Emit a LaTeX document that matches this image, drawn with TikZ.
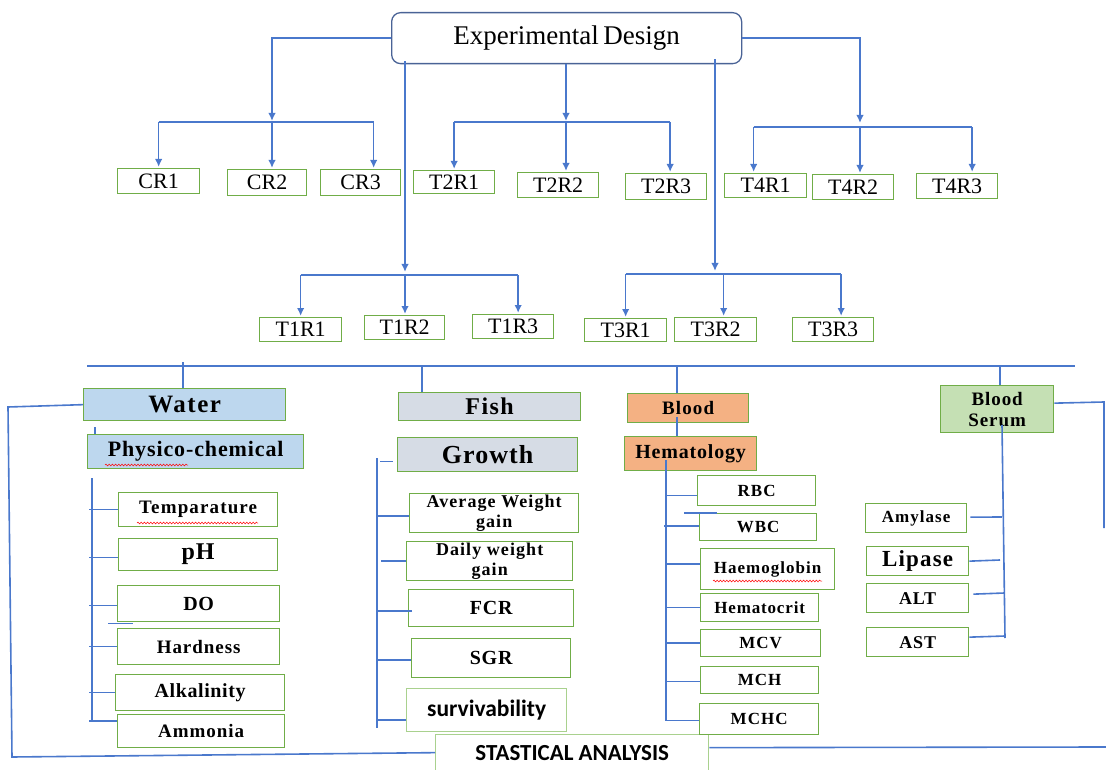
\documentclass[tikz,border=0pt]{standalone}
\usepackage{fontspec}
\setmainfont{Liberation Serif}
\newfontfamily\carl{Carlito}
\usetikzlibrary{arrows.meta,decorations.pathmorphing}
\definecolor{lblue}{HTML}{4A78CC}
\definecolor{ggreen}{HTML}{70AD47}
\definecolor{lgreen}{HTML}{A9D18E}
\definecolor{edblue}{HTML}{4A6396}
\definecolor{waterc}{HTML}{BDD7EE}
\definecolor{fishc}{HTML}{D6DCE5}
\definecolor{bloodc}{HTML}{F4B183}
\definecolor{serumc}{HTML}{C5E0B4}
\newcommand\fs[1]{\fontsize{#1}{#1}\selectfont}
\newcommand\bft[2]{\bfseries\fontsize{#1}{#1}\selectfont\addfontfeature{LetterSpace=#2}}
\tikzset{
  ln/.style={draw=lblue, line width=1.6},
  arr/.style={ln, -{Latex[length=8,width=7.5]}, shorten >=1},
  gbox/.style={draw=ggreen, line width=1.3, inner sep=0, anchor=north west, align=center},
  wavy/.style={draw=red, line width=0.5, decorate, decoration={snake, amplitude=0.9, segment length=3.2}}
}
\begin{document}
\begin{tikzpicture}[x=1pt,y=-1pt]
\useasboundingbox (0,0) rectangle (1106,770);
% top
\node[draw=edblue, line width=1.3, rounded corners=9, anchor=north west, minimum width=350, minimum height=51, inner sep=0, font=\fs{27}] (ed) at (391,12) {Experimental\,Design};
\begin{scope}[every node/.style={gbox, font=\fs{22}}]
\node[minimum width=82, minimum height=25] (cr1) at (117,168) {CR1};
\node[minimum width=79, minimum height=26] (cr2) at (227,169) {CR2};
\node[minimum width=80, minimum height=26] (cr3) at (320,169) {CR3};
\node[minimum width=81, minimum height=23] (t2r1) at (413,170) {T2R1};
\node[minimum width=81, minimum height=25] (t2r2) at (517,172) {T2R2};
\node[minimum width=81, minimum height=26] (t2r3) at (625,173) {T2R3};
\node[minimum width=82, minimum height=24] (t4r1) at (724,173) {T4R1};
\node[minimum width=81, minimum height=25] (t4r2) at (812,174) {T4R2};
\node[minimum width=81, minimum height=25] (t4r3) at (916,173) {T4R3};
\node[minimum width=82, minimum height=24] (t1r1) at (259,317) {T1R1};
\node[minimum width=80, minimum height=24] (t1r2) at (364,315) {T1R2};
\node[minimum width=81, minimum height=24] (t1r3) at (472,314) {T1R3};
\node[minimum width=82, minimum height=23] (t3r1) at (584,318) {T3R1};
\node[minimum width=82, minimum height=24] (t3r2) at (674,317) {T3R2};
\node[minimum width=81, minimum height=24] (t3r3) at (792,317) {T3R3};
\end{scope}
% C group
\coordinate (cj) at (272,122);
\draw[arr] (ed.west) -| (cj);
\draw[ln] (cr1.north |- cj) -- ([xshift=13]cr3.north |- cj);
\draw[arr] (cr1.north |- cj) -- (cr1.north);
\draw[arr] (cj) -- (cj |- cr2.north);
\draw[arr] ([xshift=13]cr3.north |- cj) -- ([xshift=13]cr3.north);
% T2 group
\coordinate (t2j) at (566,122);
\draw[arr] (t2j |- ed.south) -- (t2j);
\draw[ln] (t2r1.north |- t2j) -- ([xshift=4]t2r3.north |- t2j);
\draw[arr] (t2r1.north |- t2j) -- (t2r1.north);
\draw[arr] (t2j) -- (t2j |- t2r2.north);
\draw[arr] ([xshift=4]t2r3.north |- t2j) -- ([xshift=4]t2r3.north);
% T4 group
\coordinate (t4j) at (860,124);
\coordinate (t4b) at (860,127);
\draw[arr] (ed.east) -| (t4j);
\draw[ln] ([xshift=-12]t4r1.north |- t4b) -- ([xshift=15]t4r3.north |- t4b);
\draw[arr] ([xshift=-12]t4r1.north |- t4b) -- ([xshift=-12]t4r1.north);
\draw[arr] (t4b) -- (t4b |- t4r2.north);
\draw[arr] ([xshift=15]t4r3.north |- t4b) -- ([xshift=15]t4r3.north);
% T1 group
\coordinate (t1j) at (405,273);
\coordinate (t1b) at (405,275);
\draw[arr] ([yshift=3]t1j |- ed.south) -- (t1j);
\draw[ln] (t1r1.north |- t1b) -- ([xshift=5]t1r3.north |- t1b);
\draw[arr] (t1r1.north |- t1b) -- (t1r1.north);
\draw[arr] (t1b) -- (t1b |- t1r2.north);
\draw[arr] ([xshift=5]t1r3.north |- t1b) -- ([xshift=5]t1r3.north);
% T3 group
\coordinate (t3j) at (715,272);
\coordinate (t3b) at (715,274);
\draw[arr] ([yshift=5]t3j |- ed.south) -- (t3j);
\draw[ln] (t3r1.north |- t3b) -- ([xshift=8]t3r3.north |- t3b);
\draw[arr] (t3r1.north |- t3b) -- (t3r1.north);
\draw[arr] ([xshift=8]t3r2.north |- t3b) -- ([xshift=8]t3r2.north);
\draw[arr] ([xshift=8]t3r3.north |- t3b) -- ([xshift=8]t3r3.north);
% ---------------- lower part
\begin{scope}[every node/.style={gbox, font=\bft{19}{5}}]
\node[fill=waterc, minimum width=202, minimum height=32, font=\bft{25}{6}] (water) at (83,388) {Water};
\node[fill=waterc, minimum width=216, minimum height=34, font=\bft{22}{4}] (phys) at (87,434) {Physico-chemical};
\node[minimum width=159, minimum height=34, font=\bft{19}{6}] (temp) at (118,492) {Temparature};
\node[minimum width=159, minimum height=32, font=\bft{24}{4}] (ph) at (118,538) {pH};
\node[minimum width=162, minimum height=36, font=\bft{20}{3}] (do) at (117,585) {DO};
\node[minimum width=162, minimum height=36] (hard) at (117,628) {Hardness};
\node[minimum width=169, minimum height=36, font=\bft{20}{3}] (alk) at (115,674) {Alkalinity};
\node[minimum width=167, minimum height=33] (amm) at (117,714) {Ammonia};
%
\node[fill=fishc, minimum width=182, minimum height=28, font=\bft{24}{6}] (fish) at (398,392) {Fish};
\node[fill=fishc, minimum width=180, minimum height=34, font=\bft{26}{4}] (growth) at (397,437) {Growth};
\node[minimum width=169, minimum height=39, font=\bfseries\fontsize{18}{20}\selectfont\addfontfeature{LetterSpace=6}] (awg) at (409,493) {Average Weight\\gain};
\node[minimum width=166, minimum height=39, font=\bfseries\fontsize{18}{20}\selectfont\addfontfeature{LetterSpace=6}] (dwg) at (406,541) {Daily weight\\gain};
\node[minimum width=165, minimum height=37, font=\bft{20}{4}] (fcr) at (408,589) {FCR};
\node[minimum width=159, minimum height=39, font=\bft{20}{4}] (sgr) at (411,638) {SGR};
\node[draw=lgreen, minimum width=160, minimum height=43, font=\carl\bfseries\fs{23.5}] (surv) at (406,688) {survivability};
\node[draw=lgreen, minimum width=273, minimum height=36, font=\carl\bfseries\fs{23}] (stat) at (435,734) {STASTICAL ANALYSIS};
%
\node[fill=bloodc, minimum width=121, minimum height=29, font=\bft{19}{6}] (blood) at (627,393) {Blood};
\node[fill=bloodc, minimum width=132, minimum height=34, font=\bft{20}{4}] (hema) at (624,436) {Hematology};
\node[minimum width=118, minimum height=30, font=\bft{17}{6}] (rbc) at (697,475) {RBC};
\node[minimum width=117, minimum height=27, font=\bft{17}{6}] (wbc) at (699,513) {WBC};
\node[minimum width=134, minimum height=41, font=\bft{17}{6}] (haem) at (700,548) {Haemoglobin};
\node[minimum width=118, minimum height=28, font=\bft{17}{5}] (hct) at (700,593) {Hematocrit};
\node[minimum width=120, minimum height=27, font=\bft{17}{6}] (mcv) at (700,629) {MCV};
\node[minimum width=118, minimum height=27, font=\bft{17}{6}] (mch) at (700,666) {MCH};
\node[minimum width=119, minimum height=31, font=\bft{17}{6}] (mchc) at (699,703) {MCHC};
%
\node[fill=serumc, minimum width=113, minimum height=47, font=\bfseries\fontsize{19}{21}\selectfont\addfontfeature{LetterSpace=5}] (serum) at (940,385) {Blood\\Serum};
\node[minimum width=101, minimum height=29, font=\bft{17}{6}] (amy) at (865,503) {Amylase};
\node[minimum width=102, minimum height=29, font=\bft{23}{5}] (lip) at (866,546) {Lipase};
\node[minimum width=102, minimum height=29, font=\bft{18}{5}] (alt) at (866,583) {ALT};
\node[minimum width=102, minimum height=29, font=\bft{18}{5}] (ast) at (866,627) {AST};
\end{scope}
% spelling marks
\draw[wavy] (105,465) -- (188,465);
\draw[wavy] (137,523) -- (258,523);
\draw[wavy] (713,581) -- (822,581);
% main bar
\coordinate (hl) at (87,366);
\coordinate (hr) at (1075,366);
\draw[ln] (hl) -- (hr);
\coordinate (wx) at (183,362);
\coordinate (fx) at (422,366);
\coordinate (bx) at (677,366);
\coordinate (sx) at (1000,366);
\draw[ln] (wx) -- (wx |- water.north);
\draw[ln] (fx) -- (fx |- fish.north);
\draw[ln] (bx) -- (bx |- blood.north);
\draw[ln] ([yshift=6]bx |- blood.south) -- (bx |- hema.north);
\draw[ln] (sx) -- (sx |- serum.north);
% water branch
\coordinate (wp) at (95,420);
\draw[ln] ([yshift=-7]wp) -- (wp |- phys.north);
\coordinate (wv) at (92,478);
\coordinate (wv2) at (92,722);
\draw[ln] (wv) -- (wv2);
\draw[ln] (temp.west) -- ([xshift=-3]temp.west -| wv);
\draw[ln] ([yshift=-3]ph.west) -- ([xshift=-3,yshift=-3]ph.west -| wv);
\draw[ln] ([yshift=-2]do.west) -- ([xshift=-3,yshift=-2]do.west -| wv);
\draw[ln] (hard.west) -- ([xshift=-3]hard.west -| wv);
\draw[ln] (alk.west) -- ([xshift=-3]alk.west -| wv);
\draw[ln] ([yshift=10]amm.west) -- ([xshift=-3,yshift=10]amm.west -| wv);
\draw[ln] ([xshift=-9,yshift=-1]do.south west) -- ([xshift=16,yshift=-1]do.south west);
% big loop to stats
\coordinate (lc1) at (8,407);
\coordinate (lc2) at (12,757);
\draw[ln] (water.west) -- (lc1) -- (lc2) -- (stat.west);
\coordinate (rc) at (1106,747);
\draw[ln] ([yshift=5]stat.east) -- (rc);
% fish branch
\coordinate (fv) at (377,458);
\coordinate (fv2) at (377,728);
\draw[ln] (fv) -- (fv2);
\draw[ln] ([xshift=3,yshift=-7]growth.west -| fv) -- ([xshift=-4,yshift=-7]growth.west);
\draw[ln] ([yshift=-3]awg.west) -- ([yshift=-3]awg.west -| fv);
\draw[ln] (dwg.west) -- ([xshift=4]dwg.west -| fv);
\draw[ln] ([xshift=4,yshift=-3]fcr.west) -- ([yshift=-3]fcr.west -| fv);
\draw[ln] ([yshift=-2]sgr.west) -- ([yshift=-2]sgr.west -| fv);
\draw[ln] ([yshift=-10]surv.west) -- ([yshift=-10]surv.west -| fv);
% hematology branch
\coordinate (hv) at (666,460);
\draw[ln] (hv) -- ([yshift=-1.5]mchc.west -| hv) -- ([yshift=-1.5]mchc.west);
\draw[ln] ([yshift=-5]rbc.west) -- ([yshift=-5]rbc.west -| hv);
\draw[ln] ([yshift=1]wbc.west) -- ([xshift=-2,yshift=1]wbc.west -| hv);
\draw[ln] ([yshift=5]haem.west) -- ([yshift=5]haem.west -| hv);
\draw[ln] (hct.west) -- (hct.west -| hv);
\draw[ln] (mcv.west) -- (mcv.west -| hv);
\draw[ln] ([yshift=-1.5]mch.west) -- ([yshift=-1.5]mch.west -| hv);
\draw[ln] ([xshift=-15]wbc.north west) -- ([xshift=18]wbc.north west);
% serum branch
\coordinate (sv1) at (1002,425);
\coordinate (sv2) at (1005,638);
\draw[ln] (sv1) -- (sv2);
\draw[ln] ([xshift=3,yshift=1]amy.east) -- (1002,517);
\draw[ln] (lip.east) -- (1000,560);
\draw[ln] ([xshift=4,yshift=4]alt.east) -- (1004.5,593);
\draw[ln] ([yshift=5]ast.east) -- (1005,636);
\coordinate (sr1) at (1104,402);
\coordinate (sr2) at (1104,528);
\draw[ln] ([yshift=6]serum.east) -- (sr1) -- (sr2);
\end{tikzpicture}
\end{document}
